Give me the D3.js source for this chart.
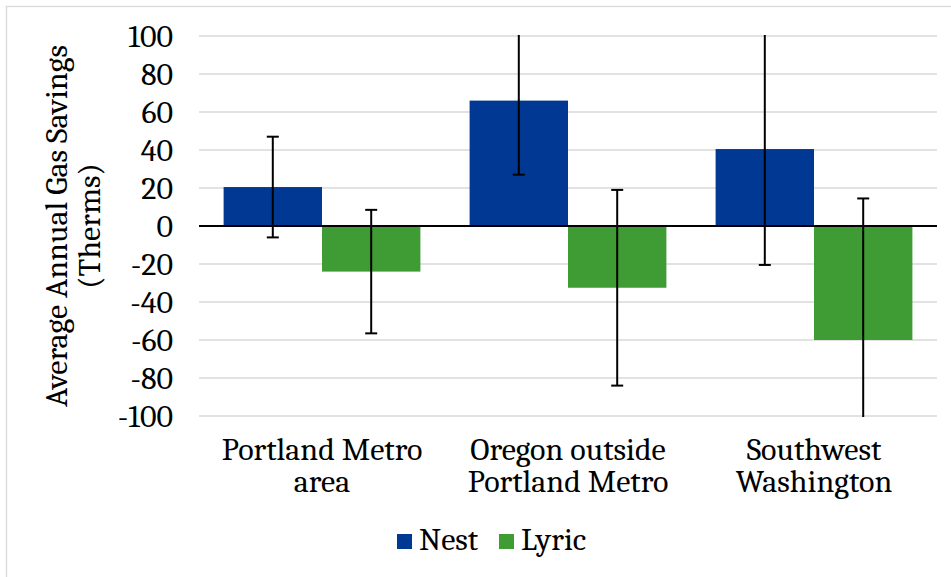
<!DOCTYPE html>
<html>
<head>
<meta charset="utf-8">
<script src="https://cdn.jsdelivr.net/npm/d3@7"></script>
</head>
<body style="margin:0;background:#fff">
<svg id="chart" width="951" height="577" style="display:block"></svg>
<script>
// Regions (each label split over two lines)
const regions = ["Portland Metro area", "Oregon outside Portland Metro", "Southwest Washington"];
const regionLines = [["Portland Metro", "area"], ["Oregon outside", "Portland Metro"], ["Southwest", "Washington"]];
const seriesNames = ["Nest", "Lyric"];
const seriesColors = ["#003893", "#3f9c35"];

// Average annual gas savings (therms) and error-bar half widths
const nestSavings = [20.5, 66, 40.5];
const nestError = [26.5, 39, 61];
const lyricSavings = [-24, -32.5, -60];
const lyricError = [32.5, 51.5, 74.5];

const yTicks = [-100, -80, -60, -40, -20, 0, 20, 40, 60, 80, 100];
const yTitleLines = ["Average Annual Gas Savings", "(Therms)"];

const FONT = "'Caladea', 'Cambria', 'Liberation Serif', serif";
const FS = "32px";
const svg = d3.select("#chart");
const plot = { left: 199, right: 937, top: 36, bottom: 416 };

// Outer chart frame (top and left edges visible)
svg.append("rect")
  .attr("x", 6.5).attr("y", 6.5)
  .attr("width", 1000).attr("height", 1000)
  .attr("fill", "none").attr("stroke", "#d9d9d9").attr("stroke-width", 1.3);

const x0 = d3.scaleBand().domain(regions).range([plot.left, plot.right]).padding(0);
const x1 = d3.scaleBand().domain(seriesNames).range([0, x0.bandwidth()])
  .paddingInner(0).paddingOuter(0.25);
const y = d3.scaleLinear().domain([-100, 100]).range([plot.bottom, plot.top]);

// Horizontal gridlines
svg.append("g")
  .selectAll("line")
  .data(yTicks.filter(d => d !== 0))
  .join("line")
  .attr("x1", plot.left).attr("x2", plot.right)
  .attr("y1", d => y(d)).attr("y2", d => y(d))
  .attr("stroke", "#d9d9d9").attr("stroke-width", 1.5);

// Y axis tick labels (plain hyphen for negatives)
const yAxis = d3.axisLeft(y).tickValues(yTicks).tickSize(0).tickPadding(0)
  .tickFormat(d => String(d));
const yG = svg.append("g").attr("transform", "translate(173,0)").call(yAxis);
yG.select(".domain").remove();
yG.selectAll("text")
  .style("font-family", FONT)
  .style("font-size", FS)
  .attr("fill", "#000")
  .attr("x", 0)
  .attr("dy", "0.34em");

// Build rows
const rows = regions.map((r, i) => ({
  region: r,
  values: [
    { series: "Nest", value: nestSavings[i], err: nestError[i], color: seriesColors[0] },
    { series: "Lyric", value: lyricSavings[i], err: lyricError[i], color: seriesColors[1] }
  ]
}));

const groups = svg.append("g").selectAll("g")
  .data(rows)
  .join("g")
  .attr("transform", d => `translate(${x0(d.region)},0)`);

// Bars
groups.selectAll("rect")
  .data(d => d.values)
  .join("rect")
  .attr("x", d => x1(d.series))
  .attr("width", x1.bandwidth())
  .attr("y", d => y(Math.max(0, d.value)))
  .attr("height", d => Math.abs(y(d.value) - y(0)))
  .attr("fill", d => d.color);

// Zero line
svg.append("line")
  .attr("x1", plot.left).attr("x2", plot.right)
  .attr("y1", y(0)).attr("y2", y(0))
  .attr("stroke", "#000").attr("stroke-width", 2);

// Error bars, clipped to the plot area
svg.append("clipPath").attr("id", "plotClip")
  .append("rect")
  .attr("x", plot.left).attr("y", plot.top - 1)
  .attr("width", plot.right - plot.left).attr("height", plot.bottom - plot.top + 2);

const errG = svg.append("g").attr("clip-path", "url(#plotClip)");
const capHalf = 6;
rows.forEach(row => {
  row.values.forEach(v => {
    const cx = x0(row.region) + x1(v.series) + x1.bandwidth() / 2;
    const hi = v.value + v.err, lo = v.value - v.err;
    errG.append("line")
      .attr("x1", cx).attr("x2", cx)
      .attr("y1", y(hi)).attr("y2", y(lo))
      .attr("stroke", "#000").attr("stroke-width", 2);
    [hi, lo].forEach(e => {
      if (e <= 100 && e >= -100) {
        errG.append("line")
          .attr("x1", cx - capHalf).attr("x2", cx + capHalf)
          .attr("y1", y(e)).attr("y2", y(e))
          .attr("stroke", "#000").attr("stroke-width", 2);
      }
    });
  });
});

// Category labels (two lines each)
const catG = svg.append("g");
regions.forEach((r, i) => {
  regionLines[i].forEach((ln, j) => {
    catG.append("text")
      .attr("x", x0(r) + x0.bandwidth() / 2)
      .attr("y", 460 + j * 32)
      .attr("text-anchor", "middle")
      .style("font-family", FONT)
      .style("font-size", FS)
      .attr("fill", "#000")
      .text(ln);
  });
});

// Y axis title
const titleG = svg.append("g").attr("transform", "translate(67,226) rotate(-90)");
yTitleLines.forEach((ln, j) => {
  titleG.append("text")
    .attr("x", 0).attr("y", j * 33)
    .attr("text-anchor", "middle")
    .style("font-family", FONT)
    .style("font-size", FS)
    .attr("fill", "#000")
    .text(ln);
});

// Legend
const legendItems = [
  { name: seriesNames[0], color: seriesColors[0], x: 397 },
  { name: seriesNames[1], color: seriesColors[1], x: 499 }
];
const lg = svg.append("g");
legendItems.forEach(it => {
  lg.append("rect")
    .attr("x", it.x).attr("y", 534)
    .attr("width", 15).attr("height", 15)
    .attr("fill", it.color);
  lg.append("text")
    .attr("x", it.x + 22).attr("y", 549.5)
    .style("font-family", FONT)
    .style("font-size", FS)
    .attr("fill", "#000")
    .text(it.name);
});
</script>
</body>
</html>
